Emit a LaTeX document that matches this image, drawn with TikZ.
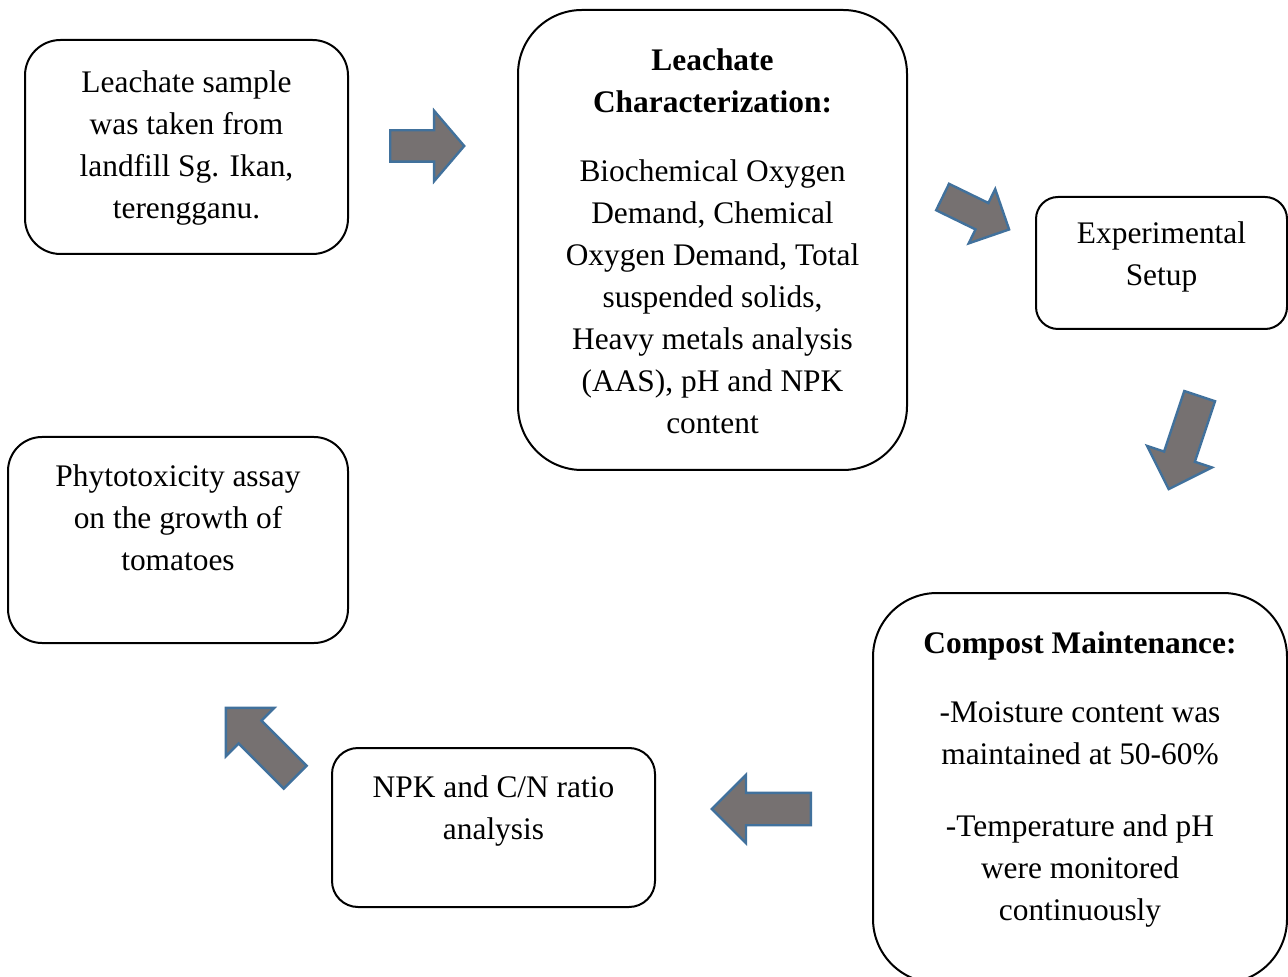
\documentclass[tikz,border=0pt]{standalone}
\usepackage{fontspec}
\setmainfont{Liberation Serif}
\usepackage{tikz}
\usetikzlibrary{shapes.arrows}
\definecolor{ink}{HTML}{000000}
\definecolor{arrowgray}{HTML}{767171}
\definecolor{arrowblue}{HTML}{41719C}
\tikzset{
  stagebox/.style={draw=ink,line width=1pt,fill=white,inner sep=0pt,rounded corners=#1},
  stagetext/.style={align=center,inner sep=0pt,font=\fontsize{15.7}{21}\selectfont},
  blockarrow/.style={single arrow,draw=arrowblue,fill=arrowgray,line width=1.2pt,
    anchor=tail,inner sep=7.5pt,single arrow head extend=9pt,minimum height=#1},
}

\begin{document}
\begin{tikzpicture}[x=0.5pt,y=0.5pt]
  \useasboundingbox[fill=white] (0,0) rectangle (1288,-977);
  % stage boxes
  \node[stagebox=17.75pt,minimum width=161.5pt,minimum height=107pt] (sample) at (186.5,-147) {};
  \node[stagebox=32pt,minimum width=194.5pt,minimum height=230pt] (charact) at (712.5,-240) {};
  \node[stagebox=11pt,minimum width=125.5pt,minimum height=66pt] (setup) at (1161.5,-263) {};
  \node[stagebox=32pt,minimum width=207pt,minimum height=195pt] (compost) at (1080,-788) {};
  \node[stagebox=13pt,minimum width=161.5pt,minimum height=79.5pt] (npk) at (493.5,-827.5) {};
  \node[stagebox=17pt,minimum width=170pt,minimum height=103pt] (phyto) at (178,-540) {};

  % texts
  \node[stagetext] (sampleText) at (186.5,-148)
    {Leachate sample\\was taken from\\landfill Sg. Ikan,\\terengganu.};
  \node[stagetext] (charactText) at (712.5,-241.5)
    {\textbf{Leachate}\\\textbf{Characterization:}\\[13.5pt]
     Biochemical Oxygen\\Demand, Chemical\\Oxygen Demand, Total\\suspended solids,\\
     Heavy metals analysis\\(AAS), pH and NPK\\content};
  \node[stagetext] (setupText) at (1161.5,-257) {Experimental\\Setup};
  \node[stagetext] (compostText) at (1080,-779)
    {\textbf{Compost Maintenance:}\\[13.5pt]
     -Moisture content was\\maintained at 50-60\%\\[15pt]
     -Temperature and pH\\were monitored\\continuously};
  \node[stagetext] (npkText) at (493.5,-811) {NPK and C/N ratio\\analysis};
  \node[stagetext] (phytoText) at (178,-518)
    {Phytotoxicity assay\\on the growth of\\tomatoes};

  % block arrows
  \node[blockarrow=37pt,inner sep=7.25pt,single arrow head extend=9.75pt,
    single arrow tip angle=99] (a1) at (389,-146) {};
  \node[blockarrow=37pt,inner sep=6.75pt,single arrow head extend=7.75pt,
    rotate=-26] (a2) at (941.5,-196.5) {};
  \node[blockarrow=49pt,rotate=-108.4] (a3) at (1200,-395) {};
  \node[blockarrow=49.5pt,rotate=180] (a4) at (812,-809) {};
  \node[blockarrow=49pt,rotate=135] (a5) at (296,-778) {};
\end{tikzpicture}
\end{document}
